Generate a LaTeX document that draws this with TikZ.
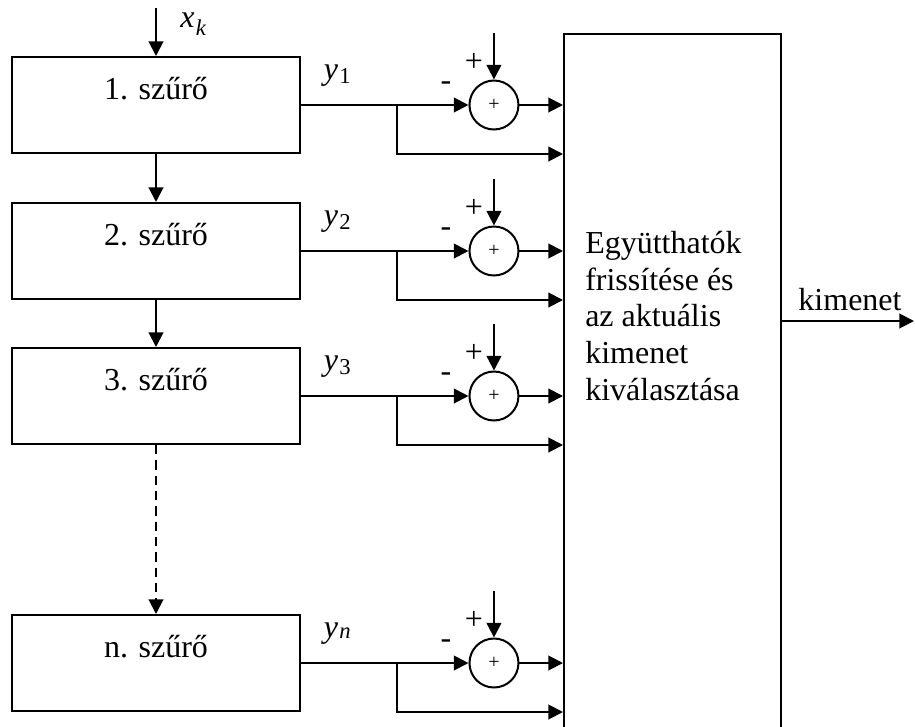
\documentclass[tikz,border=0pt]{standalone}
\usepackage{fontspec}
\setmainfont{Liberation Serif}
\usetikzlibrary{arrows.meta,positioning,calc}
\newcommand{\jel}[3][2.5pt]{\textit{#2}\kern1pt\raisebox{-#1}{\fontsize{17}{17}\selectfont #3}}

\begin{document}
\begin{tikzpicture}[
        x=0.75pt, y=-0.75pt,
        every node/.style={font=\fontsize{24}{27.5}\selectfont},
        box/.style={draw, line width=1.5pt, minimum width=216pt, inner ysep=0pt, text height=31.5pt, text depth=40.5pt},
        sum/.style={circle, draw, line width=1.5pt, minimum size=36.75pt, inner sep=0pt, font=\fontsize{15}{15}\selectfont},
        sign/.style={inner sep=0pt, font=\fontsize{24}{24}\selectfont},
        arrow/.style={-{Triangle[length=11pt,width=11pt]}, line width=1.5pt}
    ]
        \useasboundingbox (0,0) rectangle (915,726);

        \node[box] (f1) at (156,105) {1. szűrő};
        \node[box, below=36pt of f1] (f2) {2. szűrő};
        \node[box, below=35.25pt of f2] (f3) {3. szűrő};
        \node[box, below=126.75pt of f3] (fn) {n. szűrő};

        \node[draw, line width=1.5pt, minimum width=162.75pt, minimum height=540pt, anchor=north west] (upd) at (563,33) {};
        \node[anchor=north west, align=left, inner sep=0pt] (txt) at (585,231) {Együtthatók\\frissítése és\\az aktuális\\kimenet\\kiválasztása};

        \coordinate (in) at (156,8);
        \node[anchor=base west, inner sep=0pt] (xk) at (180,27) {\jel[6pt]{x}{\textit{k}}};
        \draw[arrow] (in) -- (f1);
        \draw[arrow] (f1) -- (f2);
        \draw[arrow] (f2) -- (f3);
        \draw[arrow, dash pattern=on 7pt off 4.5pt] (f3) -- (fn);

        \node[sum, right=125.6pt of f1] (s1) {+};
        \node[sum, right=125.6pt of f2] (s2) {+};
        \node[sum, right=125.6pt of f3] (s3) {+};
        \node[sum, right=125.6pt of fn] (sn) {+};

        \coordinate[right=72pt of f1.east] (b1);
        \coordinate[right=72pt of f2.east] (b2);
        \coordinate[right=72pt of f3.east] (b3);
        \coordinate[right=72pt of fn.east] (bn);
        \coordinate[above=54pt of s1.center] (p1);
        \coordinate[above=54pt of s2.center] (p2);
        \coordinate[above=54pt of s3.center] (p3);
        \coordinate[above=54pt of sn.center] (pn);

        \node[anchor=base west, inner sep=0pt] (y1) at ([xshift=17pt,yshift=19pt]f1.east) {\jel{y}{1}};
        \node[anchor=base west, inner sep=0pt] (y2) at ([xshift=17pt,yshift=19pt]f2.east) {\jel{y}{2}};
        \node[anchor=base west, inner sep=0pt] (y3) at ([xshift=17pt,yshift=19pt]f3.east) {\jel{y}{3}};
        \node[anchor=base west, inner sep=0pt] (yn) at ([xshift=17pt,yshift=19pt]fn.east) {\jel[0.5pt]{y}{\textit{n}}};

        \node[sign] (pl1) at ([xshift=-15pt,yshift=32pt]s1.center) {+};
        \node[sign] (pl2) at ([xshift=-15pt,yshift=32pt]s2.center) {+};
        \node[sign] (pl3) at ([xshift=-15pt,yshift=32pt]s3.center) {+};
        \node[sign] (pln) at ([xshift=-15pt,yshift=32pt]sn.center) {+};
        \node[sign] (mi1) at ([xshift=-36pt,yshift=14.5pt]s1.center) {-};
        \node[sign] (mi2) at ([xshift=-36pt,yshift=14.5pt]s2.center) {-};
        \node[sign] (mi3) at ([xshift=-36pt,yshift=14.5pt]s3.center) {-};
        \node[sign] (min) at ([xshift=-36pt,yshift=14.5pt]sn.center) {-};

        \draw[arrow] (f1) -- (s1);
        \draw[arrow] (p1) -- (s1);
        \draw[arrow] (s1) -- (upd.west |- s1);
        \draw[arrow] (b1) |- (upd.west |- f1.south);
        \draw[arrow] (f2) -- (s2);
        \draw[arrow] (p2) -- (s2);
        \draw[arrow] (s2) -- (upd.west |- s2);
        \draw[arrow] (b2) |- (upd.west |- f2.south);
        \draw[arrow] (f3) -- (s3);
        \draw[arrow] (p3) -- (s3);
        \draw[arrow] (s3) -- (upd.west |- s3);
        \draw[arrow] (b3) |- (upd.west |- f3.south);
        \draw[arrow] (fn) -- (sn);
        \draw[arrow] (pn) -- (sn);
        \draw[arrow] (sn) -- (upd.west |- sn);
        \draw[arrow] (bn) |- (upd.west |- fn.south);

        \coordinate (ko) at (914,321);
        \node[anchor=base, inner sep=0pt] (kim) at (850,310) {kimenet};
        \draw[arrow] (upd.east |- ko) -- (ko);
    \end{tikzpicture}
\end{document}
